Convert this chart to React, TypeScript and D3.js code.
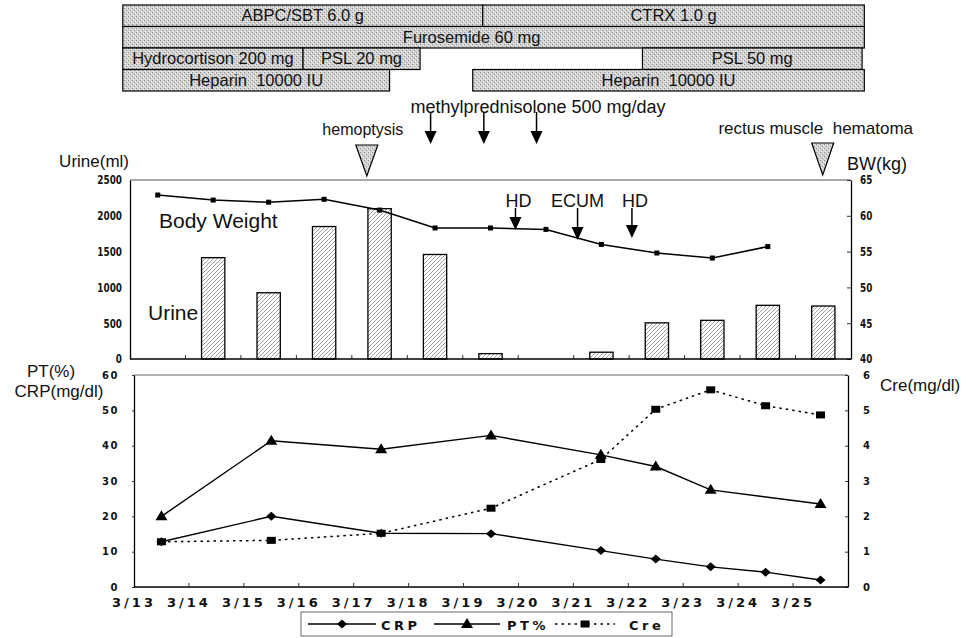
import React, { useEffect, useRef } from 'react';
import * as d3 from 'd3';

// days shown on the lower x axis (one band per day)
const days = ['3/13', '3/14', '3/15', '3/16', '3/17', '3/18', '3/19', '3/20', '3/21', '3/22', '3/23', '3/24', '3/25'];

// upper panel
const urine = [null, 1415, 925, 1850, 2100, 1460, 75, null, 95, 505, 540, 750, 740];
const bodyWeight = [62.9, 62.2, 61.9, 62.3, 60.8, 58.3, 58.3, 58.1, 56.0, 54.8, 54.1, 55.7, null];

// lower panel
const crp = [12.8, null, 20.0, null, 15.2, null, 15.1, null, 10.3, 7.9, 5.7, 4.2, 2.0];
const ptPct = [20.0, null, 41.4, null, 39.0, null, 42.9, null, 37.4, 34.1, 27.5, null, 23.5];
const cre = [1.28, null, 1.32, null, 1.52, null, 2.23, null, 3.61, 5.03, 5.58, 5.13, 4.87];

const urineTicks = [0, 500, 1000, 1500, 2000, 2500];
const bwTicks = [40, 45, 50, 55, 60, 65];
const pctTicks = [0, 10, 20, 30, 40, 50, 60];
const creTicks = [0, 1, 2, 3, 4, 5, 6];

// medication timeline (in day units from the first band)
const drugNames = ['ABPC/SBT 6.0 g', 'CTRX 1.0 g', 'Furosemide 60 mg', 'Hydrocortison 200 mg', 'PSL 20 mg', 'PSL 50 mg', 'Heparin  10000 IU', 'Heparin  10000 IU'];
const drugRow = [0, 0, 1, 2, 2, 2, 3, 3];
const drugStart = [-0.13, 6.36, -0.13, -0.13, 3.12, 9.24, -0.13, 6.18];
const drugEnd = [6.36, 13.24, 13.24, 3.12, 5.23, 13.2, 4.68, 13.24];
const drugLabelDay = [null, null, 6.16, null, null, null, null, null];

// events
const pulseDays = [5.42, 6.38, 7.33];
const dialysisNames = ['HD', 'ECUM', 'HD'];
const dialysisDays = [6.95, 8.07, 9.05];
const eventNames = ['hemoptysis', 'rectus muscle  hematoma'];
const eventDays = [4.27, 12.49];

const SANS = '"Liberation Sans", Arial, sans-serif';
const NARROW = '"Liberation Sans Narrow", "DejaVu Sans Condensed", "Liberation Sans", sans-serif';
const WIDE = '"DejaVu Sans", Verdana, sans-serif';

export default function App() {
  const W = 969, H = 638;
  const up = { left: 130, right: 851, top: 180, bottom: 359 };
  const lo = { left: 134, right: 848, top: 375, bottom: 587 };

  const xUp = d3.scaleBand<string>().domain(days).range([up.left, up.right]);
  const xLo = d3.scaleBand<string>().domain(days).range([lo.left, lo.right]);
  const dayX = d3.scaleLinear().domain([0, days.length]).range([up.left, up.right]);

  const yUrine = d3.scaleLinear().domain([0, 2500]).range([up.bottom, up.top]);
  const yBW = d3.scaleLinear().domain([40, 65]).range([up.bottom, up.top]);
  const yPct = d3.scaleLinear().domain([0, 60]).range([lo.bottom, lo.top]);
  const yCre = d3.scaleLinear().domain([0, 6]).range([lo.bottom, lo.top]);

  const gUL = useRef<SVGGElement>(null);
  const gUR = useRef<SVGGElement>(null);
  const gLL = useRef<SVGGElement>(null);
  const gLR = useRef<SVGGElement>(null);

  useEffect(() => {
    const fmt = d3.format('d');
    const style = (g: any, family: string, size: number, weight: string, spacing: number, sx: number) => {
      g.select('.domain').attr('stroke', '#000').attr('stroke-width', 1.3);
      g.selectAll('.tick line').attr('stroke', '#333');
      g.selectAll('text').attr('font-family', family).attr('font-size', size)
        .attr('font-weight', weight).attr('letter-spacing', spacing).attr('fill', '#111');
      if (sx !== 1) {
        g.selectAll('.tick text').each(function (this: SVGTextElement) {
          const x = +(this.getAttribute('x') || 0);
          d3.select(this).attr('transform', `translate(${x},0) scale(${sx},1) translate(${-x},0)`);
        });
      }
    };
    style(d3.select(gUL.current).call(d3.axisLeft(yUrine).tickValues(urineTicks).tickFormat(fmt).tickSize(0).tickPadding(8)),
      NARROW, 12, 'bold', 0, 0.82);
    style(d3.select(gUR.current).call(d3.axisRight(yBW).tickValues(bwTicks).tickFormat(fmt).tickSizeInner(-4).tickSizeOuter(0).tickPadding(9)),
      NARROW, 12, 'bold', 0, 0.82);
    style(d3.select(gLL.current).call(d3.axisLeft(yPct).tickValues(pctTicks).tickFormat(fmt).tickSizeInner(2).tickSizeOuter(0).tickPadding(13)),
      WIDE, 10, 'bold', 1.5, 1);
    style(d3.select(gLR.current).call(d3.axisRight(yCre).tickValues(creTicks).tickFormat(fmt).tickSizeInner(-3).tickSizeOuter(0).tickPadding(15)),
      WIDE, 10, 'bold', 1.5, 1);
  }, []);

  const idx = days.map((_, i) => i);
  const cUp = (i: number) => (xUp(days[i]) as number) + xUp.bandwidth() / 2;
  const cLo = (i: number) => (xLo(days[i]) as number) + xLo.bandwidth() / 2;
  const barW = xUp.bandwidth() * 0.42;

  const bwPts = idx.filter(i => bodyWeight[i] != null);
  const bwLine = d3.line<number>().x(i => cUp(i)).y(i => yBW(bodyWeight[i] as number));

  const series = [
    { name: 'CRP', values: crp, y: yPct, dash: null, marker: 'diamond' },
    { name: 'PT%', values: ptPct, y: yPct, dash: null, marker: 'triangle' },
    { name: 'Cre', values: cre, y: yCre, dash: '2.5,4', marker: 'square' },
  ];

  const marker = (kind: string, x: number, y: number, key: any) => {
    if (kind === 'square') return <rect key={key} x={x - 4.5} y={y - 3.5} width={9} height={7} fill="#000" />;
    if (kind === 'diamond') return <path key={key} d={`M${x - 5},${y}L${x},${y - 4.5}L${x + 5},${y}L${x},${y + 4.5}Z`} fill="#000" />;
    return <path key={key} d={`M${x - 6},${y + 4}L${x + 6},${y + 4}L${x},${y - 6}Z`} fill="#000" />;
  };

  const rowTop = (r: number) => 5 + r * 21.5;
  const rowH = 21.5;

  const downArrow = (x: number, y0: number, y1: number, key: any) => (
    <g key={key}>
      <line x1={x} x2={x} y1={y0} y2={y1 - 11} stroke="#000" strokeWidth={1.5} />
      <path d={`M${x - 6},${y1 - 13}L${x + 6},${y1 - 13}L${x},${y1}Z`} fill="#000" />
    </g>
  );

  const dialysisTip = [230, 240, 238];

  const legendItems = [
    { s: 308, e: 376, t: 381 },
    { s: 434, e: 500, t: 507 },
    { s: 555, e: 615, t: 629 },
  ];

  return (
    <svg width={W} height={H} style={{ position: 'absolute', left: 0, top: 0, background: '#fff' }}>
      <defs>
        <pattern id="dither" width="4" height="4" patternUnits="userSpaceOnUse">
          <rect width="4" height="4" fill="#d2d2d2" />
          <rect x="0" y="0" width="1" height="1" fill="#8f8f8f" />
          <rect x="2" y="2" width="1" height="1" fill="#8f8f8f" />
          <rect x="1" y="3" width="1" height="1" fill="#f5f5f5" />
          <rect x="3" y="1" width="1" height="1" fill="#f5f5f5" />
        </pattern>
        <pattern id="hatch" width="4" height="4" patternUnits="userSpaceOnUse">
          <rect width="4" height="4" fill="#fff" />
          <path d="M-1,1 l2,-2 M0,4 l4,-4 M3,5 l2,-2" stroke="#7a7a7a" strokeWidth="0.7" />
        </pattern>
      </defs>

      {/* medication timeline */}
      {drugNames.map((name, i) => {
        const x0 = dayX(drugStart[i]), x1 = dayX(drugEnd[i]);
        const lx = drugLabelDay[i] != null ? dayX(drugLabelDay[i] as number) : (x0 + x1) / 2;
        return (
          <g key={'drug' + i}>
            <rect x={x0} y={rowTop(drugRow[i])} width={x1 - x0} height={rowH} fill="url(#dither)" stroke="#000" strokeWidth={1.2} />
            <text x={lx} y={rowTop(drugRow[i]) + 16} textAnchor="middle" fontFamily={SANS} fontSize={16.5}
              fill="#111" style={{ whiteSpace: 'pre' }}>{name}</text>
          </g>
        );
      })}

      {/* steroid pulse */}
      <text x={538} y={113} textAnchor="middle" fontFamily={SANS} fontSize={18} fill="#111">methylprednisolone 500 mg/day</text>
      {pulseDays.map((d, i) => downArrow(dayX(d), 112, 144, 'pulse' + i))}

      {/* events */}
      {eventDays.map((d, i) => {
        const x = dayX(d);
        return (
          <g key={'ev' + i}>
            <text x={x - (i === 0 ? 4 : 7)} y={i === 0 ? 135 : 134} textAnchor="middle" fontFamily={SANS} fontSize={i === 0 ? 16 : 17}
              fill="#111" style={{ whiteSpace: 'pre' }}>{eventNames[i]}</text>
            <path d={`M${x - 11},${i === 0 ? 145 : 143}L${x + 11},${i === 0 ? 145 : 143}L${x},${i === 0 ? 176 : 175}Z`}
              fill="url(#dither)" stroke="#000" strokeWidth={1.2} />
          </g>
        );
      })}

      {/* upper panel */}
      <text x={129} y={167} textAnchor="end" fontFamily={SANS} fontSize={17} fill="#111">Urine(ml)</text>
      <text x={847} y={170} fontFamily={SANS} fontSize={18} fill="#111">BW(kg)</text>
      <line x1={up.left} x2={up.right} y1={up.top} y2={up.top} stroke="#555" strokeWidth={1} />
      {idx.filter(i => urine[i] != null).map(i => (
        <rect key={'u' + i} x={cUp(i) - barW / 2} y={yUrine(urine[i] as number)} width={barW}
          height={up.bottom - yUrine(urine[i] as number)} fill="url(#hatch)" stroke="#000" strokeWidth={1.3} />
      ))}
      {idx.slice(1).map(i => (
        <line key={'ut' + i} x1={xUp(days[i])} x2={xUp(days[i])} y1={up.bottom} y2={up.bottom - 4} stroke="#333" />
      ))}
      <path d={bwLine(bwPts) as string} fill="none" stroke="#000" strokeWidth={1.5} />
      {bwPts.map(i => (
        <rect key={'bw' + i} x={cUp(i) - 2.5} y={yBW(bodyWeight[i] as number) - 2.5} width={5} height={5} fill="#000" />
      ))}
      <g ref={gUL} transform={`translate(${up.left},0)`} />
      <g ref={gUR} transform={`translate(${up.right},0)`} />
      <line x1={up.left} x2={up.right} y1={up.bottom} y2={up.bottom} stroke="#000" strokeWidth={1.3} />
      <text x={159} y={228} fontFamily={SANS} fontSize={21} fill="#111">Body Weight</text>
      <text x={148} y={320} fontFamily={SANS} fontSize={21} fill="#111">Urine</text>

      {/* dialysis */}
      {dialysisDays.map((d, i) => (
        <g key={'hd' + i}>
          <text x={dayX(d) + (i === 1 ? 0 : 3)} y={207} textAnchor="middle" fontFamily={SANS} fontSize={18} fill="#111">{dialysisNames[i]}</text>
          {downArrow(dayX(d), 208, dialysisTip[i], 'hda' + i)}
        </g>
      ))}

      {/* lower panel */}
      <text x={51} y={377} textAnchor="middle" fontFamily={SANS} fontSize={17} fill="#111">PT(%)</text>
      <text x={59} y={397} textAnchor="middle" fontFamily={SANS} fontSize={17} fill="#111">CRP(mg/dl)</text>
      <text x={880} y={391} fontFamily={SANS} fontSize={17} fill="#111">Cre(mg/dl)</text>
      <line x1={lo.left} x2={lo.right} y1={lo.top} y2={lo.top} stroke="#666" strokeWidth={1} />
      <g ref={gLL} transform={`translate(${lo.left},0)`} />
      <g ref={gLR} transform={`translate(${lo.right},0)`} />
      <line x1={lo.left} x2={lo.right} y1={lo.bottom} y2={lo.bottom} stroke="#000" strokeWidth={1.3} />
      {idx.slice(1).map(i => (
        <line key={'lt' + i} x1={xLo(days[i])} x2={xLo(days[i])} y1={lo.bottom} y2={lo.bottom - 4} stroke="#333" />
      ))}
      {days.map(d => (
        <text key={'xl' + d} x={xLo(d) as number} y={607} textAnchor="middle" fontFamily={WIDE} fontWeight="bold"
          fontSize={13} letterSpacing={3} fill="#111">{d}</text>
      ))}
      {series.map(s => {
        const pts = idx.filter(i => s.values[i] != null);
        const line = d3.line<number>().x(i => cLo(i)).y(i => s.y(s.values[i] as number));
        return (
          <g key={s.name}>
            <path d={line(pts) as string} fill="none" stroke="#000" strokeWidth={s.dash ? 1.5 : 1.4}
              strokeDasharray={s.dash ?? undefined} />
            {pts.map(i => marker(s.marker, cLo(i), s.y(s.values[i] as number), s.name + i))}
          </g>
        );
      })}

      {/* legend */}
      <rect x={301} y={612} width={371} height={24} fill="#fff" stroke="#444" strokeWidth={0.8} />
      {series.map((s, k) => {
        const it = legendItems[k];
        return (
          <g key={'lg' + s.name}>
            <line x1={it.s} x2={it.e} y1={624} y2={624} stroke="#000" strokeWidth={1.3} strokeDasharray={s.dash ?? undefined} />
            {marker(s.marker, (it.s + it.e) / 2, 624, 'lm' + k)}
            <text x={it.t} y={630} fontFamily={WIDE} fontWeight="bold" fontSize={13} letterSpacing={3.5} fill="#111">{s.name}</text>
          </g>
        );
      })}
    </svg>
  );
}
